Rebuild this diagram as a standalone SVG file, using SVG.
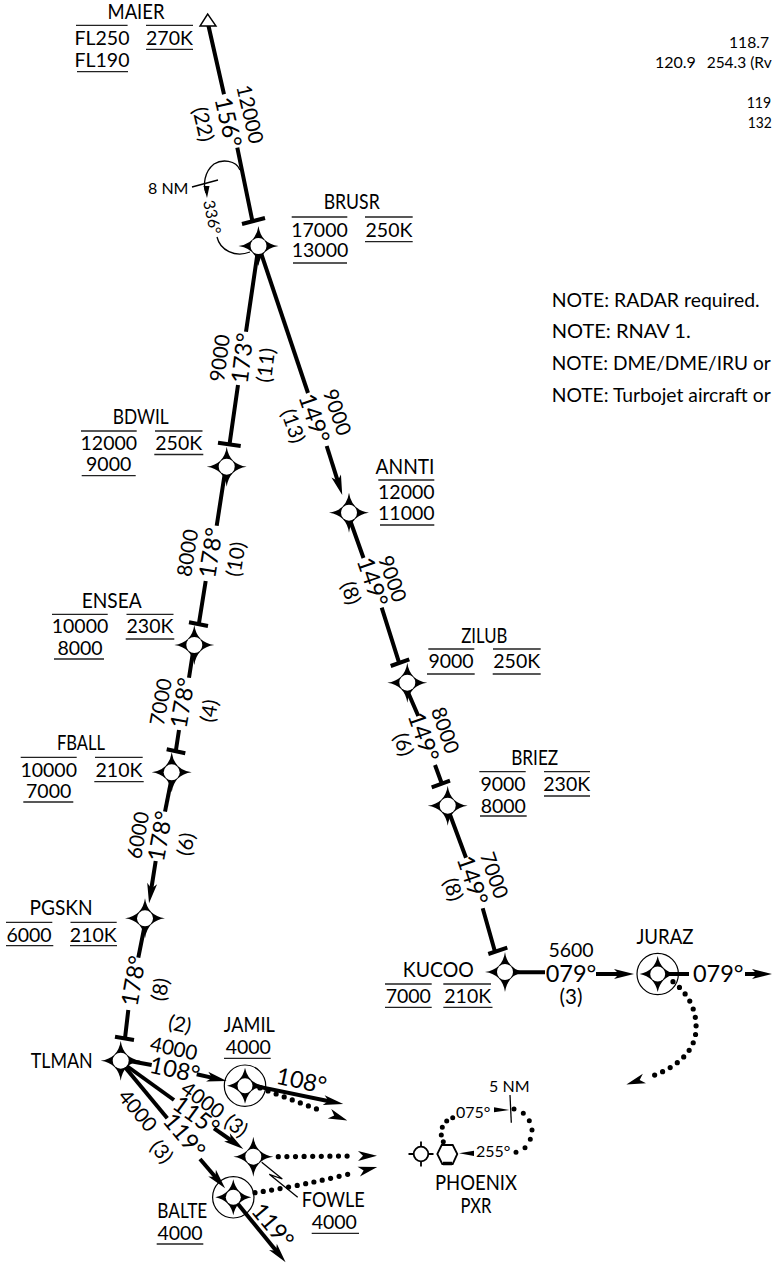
<svg xmlns="http://www.w3.org/2000/svg" width="772" height="1265" viewBox="0 0 772 1265">
<style>
text{font-family:Lato,"Noto Sans",sans-serif;font-size:19.5px;fill:#000}
.m{text-anchor:middle}
.m[textLength]{font-size:21px}
.r{text-anchor:middle;dominant-baseline:central}
.s{font-size:16px}
.n{font-size:20.5px}
.b{font-size:23.5px}
.o{font-size:19px}
.c{fill:none;stroke:#000;stroke-width:4}
.a{marker-end:url(#arr)}
.d{fill:none;stroke:#000;stroke-width:5.2;stroke-linecap:round;stroke-dasharray:0 8.6;marker-end:url(#barb)}
.t{fill:none;stroke:#000;stroke-width:1.3}
.l{fill:none;stroke:#222;stroke-width:1.3}
</style>
<defs>
<marker id="arr" markerUnits="userSpaceOnUse" markerWidth="24" markerHeight="12" refX="8" refY="6" orient="auto" overflow="visible"><path d="M20,6 L0,1 L5,6 L0,11Z"/></marker>
<marker id="barb" markerUnits="userSpaceOnUse" markerWidth="30" markerHeight="12" refX="0" refY="6" orient="auto" overflow="visible"><path d="M27,6 L8,1 L13,6 L8,11Z"/></marker>
<g id="star"><path d="M0,-20Q2.5,-2.5 20,0Q2.5,2.5 0,20Q-2.5,2.5 -20,0Q-2.5,-2.5 0,-20Z"/><circle r="8" fill="#fff"/></g>
<g id="starc"><path d="M0,-18Q3,-3 18,0Q3,3 0,18Q-3,3 -18,0Q-3,-3 0,-18Z"/><circle r="7.5" fill="#fff"/><circle r="20.7" fill="none" stroke="#000" stroke-width="1.2"/></g>
</defs>
<g id="connectors">
<path class="c" d="M208.3,25L224,94.3M237.3,147.7L252.3,220.7"/>
<path class="c" d="M242,224L265,218M218,442.7L240.7,446M189,622.3L208,626M166.7,749.3L185.3,753.3M115,1036.7L134,1040M390.7,666L409.3,659.3M431.7,787.3L450,780.7M488.3,954L507.3,947.7"/>
<path class="c" d="M258,250L246,331.7M238,385L229.7,443"/>
<path class="c" d="M260,250L308,393"/>
<path class="c a" d="M326.7,446L338.6,483.6"/>
<path class="c" d="M350,520L363.5,558M381.7,607.7L399.3,663.3"/>
<path class="c" d="M225,472L216.7,525.7M205.7,581L199,623"/>
<path class="c" d="M193,652L189,677.7M179,730L175.7,751.7"/>
<path class="c" d="M171.7,778L165,811.7"/>
<path class="c a" d="M155.7,861L150.9,891.4"/>
<path class="c" d="M145,924L138.3,957.7M128.3,1010L125,1038.3"/>
<path class="c" d="M407,690L418.3,716M435,765L441.7,783.3"/>
<path class="c" d="M449,812L466,857.7M482.7,908.3L495,951.7"/>
<path class="c" d="M510,972.3L545,972.3"/>
<path class="c a" d="M596,974L622,974"/>
<path class="c" d="M662,974L689,974"/>
<path class="c a" d="M745,974L760,974"/>
<path class="d" d="M673,981.7C690,995 697,1012 696,1030C695,1055 670,1070 652,1076"/>
<path class="c" d="M124,1060L151.7,1065"/>
<path class="c a" d="M196.7,1074.3L215,1078.4"/>
<path class="c a" d="M250,1085L331.5,1101.7"/>
<path class="d" d="M260,1088L322,1111"/>
<path class="c" d="M124,1064L174,1100"/>
<path class="c a" d="M214,1128.3L233.5,1142"/>
<path class="d" d="M278.3,1156.7L350,1156"/>
<path class="c" d="M124,1066L167.3,1118.3"/>
<path class="c a" d="M200,1159L217.3,1179.2"/>
<path class="d" d="M255,1192.7Q300,1186 351,1173.5"/>
<path class="c a" d="M238,1204L278,1253"/>
<path class="t" d="M240,170C236,160 222,159 214,164C204,172 203,185 206,193"/>
<path d="M207,198L203.5,186L209.5,186Z"/>
<path class="t" d="M217,237C220,250 235,258 250,252"/>
<path class="t" d="M192,187L218,180"/>
<path class="t" d="M261.7,1162.3L282.3,1179L269.3,1174.3L297.7,1197.3"/>
<path d="M459,1153.3L474,1150.7L474,1156Z"/>
<path d="M509.3,1110L494,1107.3L494,1112.3Z"/>
<path class="t" d="M510,1095L511.3,1122.7"/>
<path fill="none" stroke="#000" stroke-width="5" stroke-linecap="round" d="M516,1152.3h.01M525,1147.7h.01M530.3,1139.3h.01M532,1130h.01M529.3,1120.7h.01M523.3,1113.3h.01M514,1109h.01M452.7,1117.7h.01M446.7,1121h.01M442.3,1127.3h.01M441.3,1135h.01M443.3,1141.7h.01"/>
</g>
<g id="route-labels">
<text class="r n" transform="translate(250.8 114) rotate(77)">12000</text>
<text class="r b" transform="translate(229 122) rotate(77)">156°</text>
<text class="r n" transform="translate(204 124) rotate(77)">(22)</text>
<text class="r s" transform="translate(213 217) rotate(78)">336°</text>
<text class="s" x="148" y="193.5">8 NM</text>
<text class="r n" transform="translate(219 358) rotate(-83)">9000</text>
<text class="r b" transform="translate(241.7 358) rotate(-83)">173°</text>
<text class="r n" transform="translate(265 365) rotate(-83)">(11)</text>
<text class="r n" transform="translate(338 412) rotate(71)">9000</text>
<text class="r b" transform="translate(315 418) rotate(71)">149°</text>
<text class="r n" transform="translate(294 425.7) rotate(71)">(13)</text>
<text class="r n" transform="translate(186.7 552.7) rotate(-81)">8000</text>
<text class="r b" transform="translate(210 552.7) rotate(-81)">178°</text>
<text class="r n" transform="translate(235 559) rotate(-81)">(10)</text>
<text class="r n" transform="translate(160 701.7) rotate(-80)">7000</text>
<text class="r b" transform="translate(181.7 702.7) rotate(-80)">178°</text>
<text class="r n" transform="translate(208.3 710.7) rotate(-80)">(4)</text>
<text class="r n" transform="translate(137.3 835) rotate(-80)">6000</text>
<text class="r b" transform="translate(159.3 836) rotate(-80)">178°</text>
<text class="r n" transform="translate(185 844) rotate(-80)">(6)</text>
<text class="r b" transform="translate(132.7 980.7) rotate(-80)">178°</text>
<text class="r n" transform="translate(159.3 989.3) rotate(-80)">(8)</text>
<text class="r n" transform="translate(393.3 578.3) rotate(71)">9000</text>
<text class="r b" transform="translate(373.3 581.7) rotate(71)">149°</text>
<text class="r n" transform="translate(351.7 592.7) rotate(71)">(8)</text>
<text class="r n" transform="translate(446 730) rotate(71)">8000</text>
<text class="r b" transform="translate(424.3 736.7) rotate(71)">149°</text>
<text class="r n" transform="translate(404.3 744.3) rotate(71)">(6)</text>
<text class="r n" transform="translate(495 875) rotate(71)">7000</text>
<text class="r b" transform="translate(473.3 880) rotate(71)">149°</text>
<text class="r n" transform="translate(454 889.3) rotate(71)">(8)</text>
<text class="m" x="571" y="957.3">5600</text>
<text class="m b" x="571" y="981.7">079°</text>
<text class="m n" x="571" y="1004">(3)</text>
<text class="m b" x="718.3" y="981.7">079°</text>
<text class="r n" transform="translate(180 1023.3) rotate(12)">(2)</text>
<text class="r n" transform="translate(174 1047.7) rotate(12)">4000</text>
<text class="r b" transform="translate(175 1069) rotate(12)">108°</text>
<text class="r b" transform="translate(301.7 1080) rotate(12)">108°</text>
<text class="r n" transform="translate(203.3 1099.3) rotate(36)">4000</text>
<text class="r b" transform="translate(196.7 1115) rotate(36)">115°</text>
<text class="r n" transform="translate(236.7 1125) rotate(36)">(3)</text>
<text class="r n" transform="translate(138.3 1110) rotate(50)">4000</text>
<text class="r b" transform="translate(185 1135) rotate(50)">119°</text>
<text class="r n" transform="translate(162.3 1151) rotate(50)">(3)</text>
<text class="r b" transform="translate(273.3 1225) rotate(50)">119°</text>
</g>
<g id="MAIER"><path d="M207.7,14L200,26L216,26Z" fill="#fff" stroke="#000" stroke-width="1.4"/>
<text class="m" x="136" y="19" textLength="57" lengthAdjust="spacingAndGlyphs">MAIER</text><text class="m" x="102" y="45">FL250</text><text class="m" x="102" y="66.7">FL190</text><text class="m" x="169.5" y="45">270K</text>
<path class="l" d="M76,25.3H127.6M146,25.3H193M146,49.3H193M77,71.7H128"/></g>
<g id="BRUSR"><use href="#star" x="258.5" y="246"/>
<text class="m" x="351.7" y="209.3" textLength="56" lengthAdjust="spacingAndGlyphs">BRUSR</text><text class="m" x="319.5" y="236.7">17000</text><text class="m" x="320" y="257.3">13000</text><text class="m" x="389" y="236.7">250K</text>
<path class="l" d="M291.7,217H347.3M365,217H412.7M365,241.7H412.7M293,263H347"/></g>
<g id="BDWIL"><use href="#star" x="226.7" y="466.7"/>
<text class="m" x="140.7" y="424" textLength="56" lengthAdjust="spacingAndGlyphs">BDWIL</text><text class="m" x="108.8" y="450">12000</text><text class="m" x="108.7" y="471">9000</text><text class="m" x="178.7" y="450">250K</text>
<path class="l" d="M81,431H136.7M155,431H202.5M154.3,454.5H203.3M81.7,475.7H135.7"/></g>
<g id="ANNTI"><use href="#star" x="349" y="512.7"/>
<text class="m" x="405" y="474" textLength="59" lengthAdjust="spacingAndGlyphs">ANNTI</text><text class="m" x="406.3" y="499">12000</text><text class="m" x="406.3" y="520">11000</text>
<path class="l" d="M378.3,480H434.3M380,525H434.3"/></g>
<g id="ENSEA"><use href="#star" x="194.3" y="645"/>
<text class="m" x="111.7" y="608.3" textLength="60" lengthAdjust="spacingAndGlyphs">ENSEA</text><text class="m" x="80" y="633.3">10000</text><text class="m" x="80" y="655">8000</text><text class="m" x="150" y="633.3">230K</text>
<path class="l" d="M52,614.3H107.7M126.5,614.3H173.5M125.7,639H174.3M54,659H104"/></g>
<g id="ZILUB"><use href="#star" x="407.3" y="682.7"/>
<text class="m" x="484.3" y="642.7" textLength="46" lengthAdjust="spacingAndGlyphs">ZILUB</text><text class="m" x="451" y="668.3">9000</text><text class="m" x="516.7" y="668.3">250K</text>
<path class="l" d="M428.3,649H474.3M493,649H540.7M427,674H474.7M492.7,674H540.7"/></g>
<g id="FBALL"><use href="#star" x="171.7" y="772.3"/>
<text class="m" x="81" y="750" textLength="48" lengthAdjust="spacingAndGlyphs">FBALL</text><text class="m" x="48.7" y="776.7">10000</text><text class="m" x="48.7" y="797.7">7000</text><text class="m" x="119" y="776.7">210K</text>
<path class="l" d="M20.7,757.3H76.7M95,757.3H142.7M94.3,781.7H143.7M23.3,802H73.3"/></g>
<g id="BRIEZ"><use href="#star" x="447.7" y="805.7"/>
<text class="m" x="534.7" y="765" textLength="47" lengthAdjust="spacingAndGlyphs">BRIEZ</text><text class="m" x="503" y="791">9000</text><text class="m" x="503.3" y="812.7">8000</text><text class="m" x="566.7" y="791">230K</text>
<path class="l" d="M479.3,771.7H525.7M544,771.7H590M544,796H590M480,816H526.7"/></g>
<g id="PGSKN"><use href="#star" x="145" y="918.3"/>
<text class="m" x="61" y="915" textLength="63" lengthAdjust="spacingAndGlyphs">PGSKN</text><text class="m" x="29" y="941.7">6000</text><text class="m" x="93.3" y="941.7">210K</text>
<path class="l" d="M6,922.3H52.3M70.5,922.3H116.7M6,945.7H53.3M70,945.7H117"/></g>
<g id="KUCOO"><use href="#star" x="505" y="972"/>
<text class="m" x="438.3" y="977.3" textLength="71" lengthAdjust="spacingAndGlyphs">KUCOO</text><text class="m" x="408.3" y="1003.3">7000</text><text class="m" x="467.7" y="1003.3">210K</text>
<path class="l" d="M385,984H431.7M443.3,984H491M385,1007.3H431.7M443.3,1007.3H492.5"/></g>
<g id="JURAZ"><use href="#starc" x="657.7" y="974"/><text class="m" x="665" y="944.3" textLength="57" lengthAdjust="spacingAndGlyphs">JURAZ</text></g>
<g id="TLMAN"><use href="#star" x="120.7" y="1060.7"/><text class="m" x="61.7" y="1068.3" textLength="62" lengthAdjust="spacingAndGlyphs">TLMAN</text></g>
<g id="JAMIL"><use href="#starc" x="245" y="1085.7"/><text class="m" x="249.3" y="1032.3" textLength="51" lengthAdjust="spacingAndGlyphs">JAMIL</text><text class="m" x="248.3" y="1054.3">4000</text>
<path class="l" d="M224,1058.3H270.7"/></g>
<g id="FOWLE"><use href="#star" x="253.3" y="1156.7"/><text class="m" x="333.3" y="1206.7" textLength="63" lengthAdjust="spacingAndGlyphs">FOWLE</text><text class="m" x="334.3" y="1229">4000</text>
<path class="l" d="M311.7,1233.3H359"/></g>
<g id="BALTE"><use href="#starc" x="233.3" y="1197.3"/><text class="m" x="182.3" y="1217.7" textLength="50" lengthAdjust="spacingAndGlyphs">BALTE</text><text class="m" x="180" y="1240">4000</text>
<path class="l" d="M156.7,1244H203.3"/></g>
<g id="PHOENIX">
<circle cx="421" cy="1154" r="7.3" fill="none" stroke="#000" stroke-width="1.8"/>
<path d="M421,1141.5V1146.7M421,1161.3V1166.5M408.5,1154H413.7M428.3,1154H433.5" stroke="#000" stroke-width="1.8"/>
<path d="M441.7,1145H452.7L457.3,1154L452.7,1164H442.3L437.3,1154Z" fill="#fff" stroke="#000" stroke-width="1.8"/>
<path d="M443,1163.5H452" stroke="#000" stroke-width="3.5"/>
<text class="s" x="456" y="1118.3">075°</text><text class="s" x="476" y="1157.3">255°</text>
<text class="s m" x="509.3" y="1091.7">5 NM</text>
<text class="m" x="476" y="1190" textLength="82" lengthAdjust="spacingAndGlyphs">PHOENIX</text><text class="m" x="476" y="1212.7" textLength="31" lengthAdjust="spacingAndGlyphs">PXR</text>
</g>
<g id="notes">
<text class="s" x="729" y="48.3" textLength="40" lengthAdjust="spacingAndGlyphs">118.7</text>
<text class="s" x="655" y="68.3">120.9</text><text class="s" x="706.7" y="68.3" textLength="65" lengthAdjust="spacingAndGlyphs">254.3 (Rv</text>
<text class="s" x="746.7" y="108.3" textLength="24.5" lengthAdjust="spacingAndGlyphs">119</text><text class="s" x="747.7" y="128.3" textLength="24" lengthAdjust="spacingAndGlyphs">132</text>
<text class="o" x="551.7" y="306.7" textLength="208" lengthAdjust="spacingAndGlyphs">NOTE: RADAR required.</text>
<text class="o" x="551.7" y="338.3" textLength="139" lengthAdjust="spacingAndGlyphs">NOTE: RNAV 1.</text>
<text class="o" x="551.7" y="370" textLength="219" lengthAdjust="spacingAndGlyphs">NOTE: DME/DME/IRU or</text>
<text class="o" x="551.7" y="401.7" textLength="219" lengthAdjust="spacingAndGlyphs">NOTE: Turbojet aircraft or</text>
</g>
</svg>
